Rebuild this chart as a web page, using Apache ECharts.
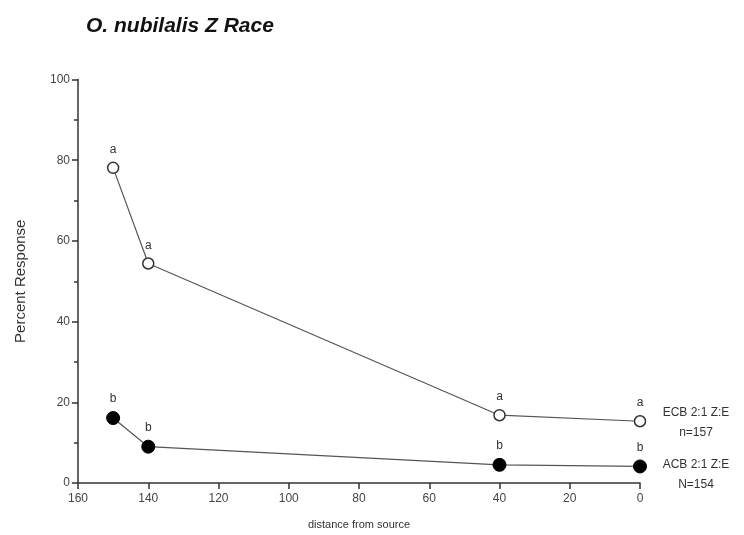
<!DOCTYPE html>
<html>
<head>
<meta charset="utf-8">
<script src="https://cdn.jsdelivr.net/npm/echarts@6/dist/echarts.min.js"></script>
<style>
html,body{margin:0;padding:0;background:#fff;}
#chart{width:744px;height:535px;}
</style>
</head>
<body>
<div id="chart"></div>
<script>
const distance = [150, 140, 40, 0];
const ecbValues = [78.1, 54.4, 16.8, 15.3];
const acbValues = [16.1, 9.0, 4.5, 4.1];
const ecbLetters = ['a', 'a', 'a', 'a'];
const acbLetters = ['b', 'b', 'b', 'b'];
const ecbName = 'ECB 2:1 Z:E\nn=157';
const acbName = 'ACB 2:1 Z:E\nN=154';

const chart = echarts.init(document.getElementById('chart'));

function pairs(xs, ys){
    return xs.map((x, i) => [x, ys[i]]);
}

const axisColor = '#333';
const option = {
    backgroundColor: '#fff',
    animation: false,
    title: {
        text: 'O. nubilalis Z Race',
        left: 81,
        top: 11,
        textStyle: {
            fontFamily: 'Liberation Sans',
            fontSize: 21,
            fontStyle: 'italic',
            fontWeight: 'bold',
            color: '#111'
        }
    },
    grid: {left: 78, right: 104, top: 79.5, bottom: 51},
    xAxis: {
        type: 'value',
        inverse: true,
        min: 0,
        max: 160,
        interval: 20,
        name: 'distance from source',
        nameLocation: 'middle',
        nameGap: 36,
        nameTextStyle: {fontFamily: 'Liberation Sans', fontSize: 11, color: '#333'},
        splitLine: {show: false},
        axisLine: {onZero: false, lineStyle: {color: axisColor, width: 1.5}},
        axisTick: {length: 6, lineStyle: {color: axisColor, width: 1.5}},
        axisLabel: {fontFamily: 'Liberation Sans', fontSize: 12, color: '#444', margin: 10}
    },
    yAxis: {
        type: 'value',
        position: 'left',
        min: 0,
        max: 100,
        interval: 20,
        name: 'Percent Response',
        nameLocation: 'middle',
        nameGap: 50,
        nameTextStyle: {fontFamily: 'Liberation Sans', fontSize: 15, color: '#333'},
        splitLine: {show: false},
        axisLine: {show: true, onZero: false, lineStyle: {color: axisColor, width: 1.5}},
        axisTick: {show: true, length: 6, lineStyle: {color: axisColor, width: 1.5}},
        minorTick: {show: true, splitNumber: 2, length: 4, lineStyle: {color: axisColor, width: 1.5}},
        axisLabel: {fontFamily: 'Liberation Sans', fontSize: 12, color: '#444', margin: 8}
    },
    series: [
        {
            name: 'ECB',
            type: 'line',
            data: pairs(distance, ecbValues),
            symbol: 'circle',
            symbolSize: 11,
            itemStyle: {color: '#fff', borderColor: '#333', borderWidth: 1.5},
            lineStyle: {color: '#555', width: 1.2},
            label: {
                show: true,
                position: 'top',
                distance: 6,
                fontFamily: 'Liberation Sans',
                fontSize: 12,
                color: '#333',
                formatter: p => ecbLetters[p.dataIndex]
            },
            endLabel: {
                show: true,
                formatter: ecbName,
                align: 'center',
                offset: [64, 1],
                fontFamily: 'Liberation Sans',
                fontSize: 12,
                lineHeight: 20,
                color: '#333'
            }
        },
        {
            name: 'ACB',
            type: 'line',
            data: pairs(distance, acbValues),
            symbol: 'circle',
            symbolSize: 13,
            itemStyle: {color: '#000', borderColor: '#000', borderWidth: 1},
            lineStyle: {color: '#555', width: 1.2},
            label: {
                show: true,
                position: 'top',
                distance: 6,
                fontFamily: 'Liberation Sans',
                fontSize: 12,
                color: '#333',
                formatter: p => acbLetters[p.dataIndex]
            },
            endLabel: {
                show: true,
                formatter: acbName,
                align: 'center',
                offset: [64, 8],
                fontFamily: 'Liberation Sans',
                fontSize: 12,
                lineHeight: 20,
                color: '#333'
            }
        }
    ]
};
chart.setOption(option);
</script>
</body>
</html>
